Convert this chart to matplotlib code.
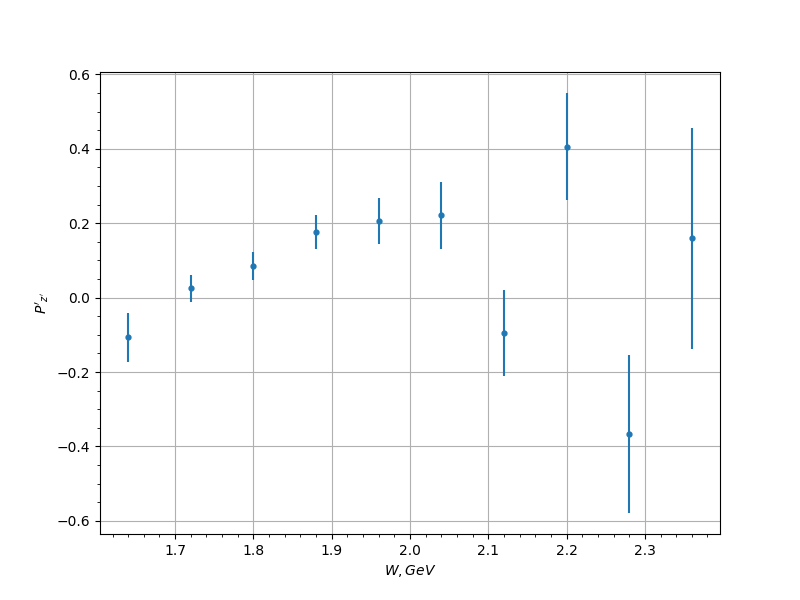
import matplotlib
matplotlib.use("Agg")
import matplotlib.pyplot as plt

# W bins (GeV) and measured P'_z' with errors
w = [1.64, 1.72, 1.80, 1.88, 1.96, 2.04, 2.12, 2.20, 2.28, 2.36]
pz = [-0.107, 0.025, 0.084, 0.176, 0.206, 0.222, -0.096, 0.406, -0.366, 0.160]
err = [0.065, 0.037, 0.038, 0.046, 0.063, 0.090, 0.116, 0.144, 0.213, 0.297]

fig, ax = plt.subplots(figsize=(8, 6), dpi=100)
ax.errorbar(w, pz, yerr=err, fmt='o', markersize=3.5)
ax.set_xlabel(r"$W, GeV$")
ax.set_ylabel(r"$P'_{z'}$")
ax.grid(True)
ax.minorticks_on()

fig.savefig("out.png")
